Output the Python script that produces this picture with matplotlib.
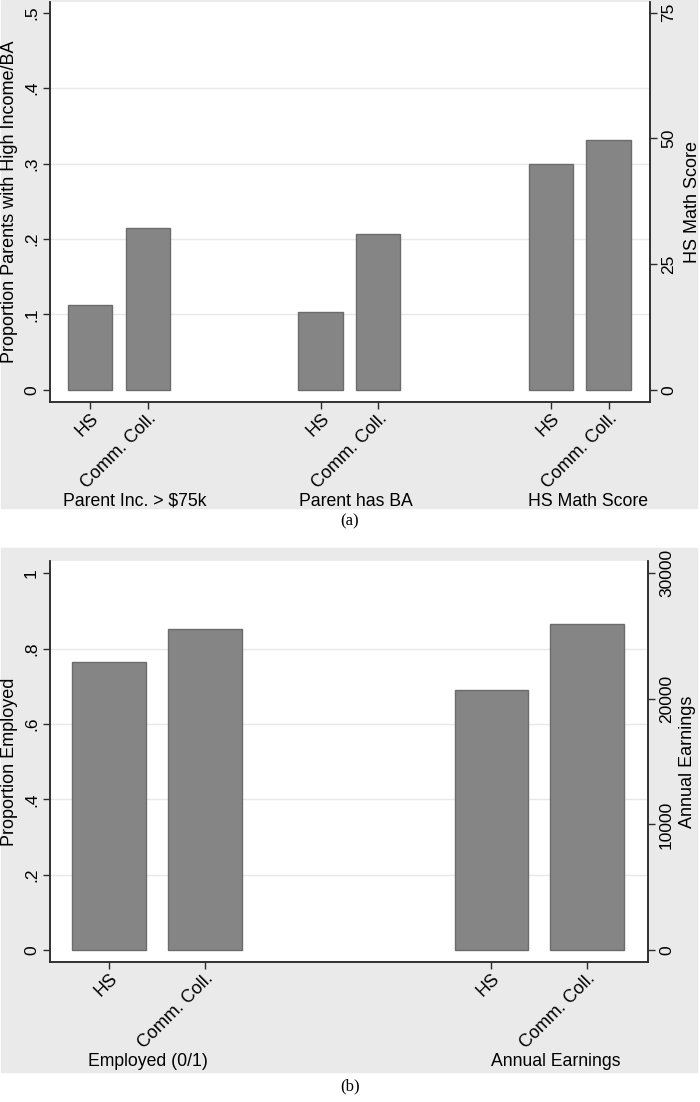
import matplotlib
matplotlib.use("Agg")
import matplotlib.pyplot as plt
import matplotlib.transforms as mtransforms
from matplotlib.patches import Rectangle

plt.rcParams['font.family'] = ['Liberation Sans', 'DejaVu Sans']

# ---- data ----
schools = ['HS', 'Comm. Coll.']

# panel (a)
top_groups = ['Parent Inc. > $75k', 'Parent has BA', 'HS Math Score']
parent_inc = [0.112, 0.214]      # left axis
parent_ba = [0.103, 0.207]       # left axis
math_score = [45.0, 49.6]        # right axis
top_left_ticks = [0, 0.1, 0.2, 0.3, 0.4, 0.5]
top_left_labels = ['0', '.1', '.2', '.3', '.4', '.5']
top_right_ticks = [0, 25, 50, 75]

# panel (b)
bot_groups = ['Employed (0/1)', 'Annual Earnings']
employed = [0.766, 0.853]        # left axis
earnings = [20700, 26000]        # right axis
bot_left_ticks = [0, 0.2, 0.4, 0.6, 0.8, 1.0]
bot_left_labels = ['0', '.2', '.4', '.6', '.8', '1']
bot_right_ticks = [0, 10000, 20000, 30000]

BAR = '#858585'
BAR_EDGE = '#6c6c6c'
BG = '#eaeaea'
GRID = '#e8e8e8'
AX = '#2b2b2b'


def style_axes(ax, ax2):
    for a in (ax, ax2):
        a.spines['top'].set_visible(False)
        for s in ('left', 'right', 'bottom'):
            a.spines[s].set_color(AX)
            a.spines[s].set_linewidth(1.1)
    ax.tick_params(axis='y', length=5, width=1, color=AX, pad=3, labelsize=12.5,
                   labelrotation=90)
    ax2.tick_params(axis='y', length=5, width=1, color=AX, pad=3, labelsize=12.5,
                    labelrotation=90)
    ax.tick_params(axis='x', length=5, width=1, color=AX, pad=1, labelsize=13)
    for lab in ax.get_yticklabels() + ax2.get_yticklabels():
        lab.set_va('center')


def draw_panel(ax, ax2, left_series, right_series, xlim, ylim, scale,
               lticks, llabels, rticks, groups, nudges, ylab_l, ylab_r,
               lab_x):
    ax.set_xlim(*xlim)
    ax.set_ylim(*ylim)
    ax2.set_ylim(ylim[0] * scale, ylim[1] * scale)
    positions = []
    for g in range(len(groups)):
        xs = [g * 4 + i for i in range(len(schools))]
        positions += xs
        if g < len(left_series):
            ax.bar(xs, left_series[g], width=0.77, color=BAR, edgecolor=BAR_EDGE,
                   linewidth=1, zorder=3)
        else:
            ax2.bar(xs, right_series[g - len(left_series)], width=0.77, color=BAR,
                    edgecolor=BAR_EDGE, linewidth=1, zorder=3)
    ax.set_xticks(positions)
    ax.set_xticklabels(schools * len(groups), rotation=45, ha='right',
                       va='top', rotation_mode='anchor')
    ax.set_yticks(lticks)
    ax.set_yticklabels(llabels)
    ax2.set_yticks(rticks)
    ax2.set_yticklabels([str(t) for t in rticks])
    for t in lticks[1:-1]:
        ax.axhline(t, color=GRID, lw=1, zorder=0)
    ax.set_ylabel(ylab_l, fontsize=13)
    ax2.set_ylabel(ylab_r, fontsize=13)
    ax.yaxis.set_label_coords(lab_x[0], 0.5)
    ax2.yaxis.set_label_coords(lab_x[1], 0.5)
    trans = mtransforms.blended_transform_factory(ax.transData, ax.transAxes)
    for g, name in enumerate(groups):
        ax.text(g * 4 + 0.5 + nudges[g], -0.248, name, transform=trans,
                ha='center', va='center', fontsize=12.7)
    style_axes(ax, ax2)


fig = plt.figure(figsize=(7, 11.02), dpi=100)

fig.patches.append(Rectangle((1 / 700, 1 - 508 / 1102), 696 / 700, 508 / 1102,
                             transform=fig.transFigure, color=BG, zorder=-10))
fig.patches.append(Rectangle((1 / 700, 1 - 1072 / 1102), 696 / 700, 524 / 1102,
                             transform=fig.transFigure, color=BG, zorder=-10))

ax_a = fig.add_axes([50 / 700, 1 - 402 / 1102, 600 / 700, 400 / 1102])
ax_a2 = ax_a.twinx()
draw_panel(ax_a, ax_a2, [parent_inc, parent_ba], [math_score],
           (-0.70, 9.72), (-0.016, 0.514), 150,
           top_left_ticks, top_left_labels, top_right_ticks,
           top_groups, [0.27, 0.12, 0.14],
           'Proportion Parents with High Income/BA', 'HS Math Score',
           (-0.053, 1.057))

ax_b = fig.add_axes([50 / 700, 1 - 962 / 1102, 598 / 700, 401 / 1102])
ax_b2 = ax_b.twinx()
draw_panel(ax_b, ax_b2, [employed], [earnings],
           (-0.62, 5.64), (-0.032, 1.033), 30000,
           bot_left_ticks, bot_left_labels, bot_right_ticks,
           bot_groups, [-0.09, 0.17],
           'Proportion Employed', 'Annual Earnings',
           (-0.053, 1.052))

fig.text(0.5, 1 - 521 / 1102, '(a)', ha='center', va='center', fontsize=12,
         family='Liberation Serif')
fig.text(0.5, 1 - 1086 / 1102, '(b)', ha='center', va='center', fontsize=12,
         family='Liberation Serif')

fig.savefig('out.png', dpi=100)
